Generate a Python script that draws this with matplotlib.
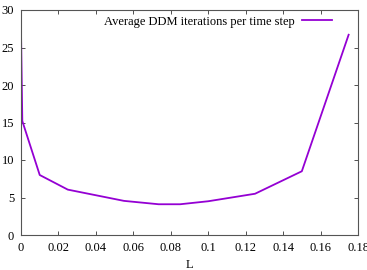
import matplotlib
matplotlib.use("Agg")
import matplotlib.pyplot as plt

L = [0.0, 0.0007, 0.01, 0.025, 0.055, 0.0735, 0.085, 0.1, 0.125, 0.15, 0.175]
iters = [27.2, 15.2, 8.0, 6.05, 4.55, 4.1, 4.1, 4.5, 5.5, 8.5, 26.7]
xticks = [0, 0.02, 0.04, 0.06, 0.08, 0.1, 0.12, 0.14, 0.16, 0.18]
xticklabels = ["0", "0.02", "0.04", "0.06", "0.08", "0.1", "0.12", "0.14", "0.16", "0.18"]
yticks = [0, 5, 10, 15, 20, 25, 30]

plt.rcParams['font.family'] = ['Liberation Serif', 'DejaVu Serif']
fig = plt.figure(figsize=(3.67, 2.70), dpi=100)
ax = fig.add_axes([21/367, 1-235/270, (358-21)/367, (235-10)/270])
ax.plot(L, iters, color='#9400D3', lw=1.3, label='Average DDM iterations per time step')
ax.set_xlim(0, 0.18)
ax.set_ylim(0, 30)
ax.set_xticks(xticks)
ax.set_xticklabels(xticklabels)
ax.set_yticks(yticks)
ax.tick_params(direction='in', top=True, right=True, labelsize=9, length=3, width=0.6, colors='#333333', labelcolor='black', pad=5)
for s in ax.spines.values():
    s.set_linewidth(0.8)
    s.set_color('#555555')
ax.set_xlabel('L', fontsize=9, labelpad=4)
ax.legend(loc='upper right', markerfirst=False, frameon=False, fontsize=9,
          handlelength=2.4, borderaxespad=0.0, borderpad=0.0, handletextpad=0.6,
          bbox_to_anchor=(0.923, 0.975))
fig.savefig('out.png', dpi=100)
